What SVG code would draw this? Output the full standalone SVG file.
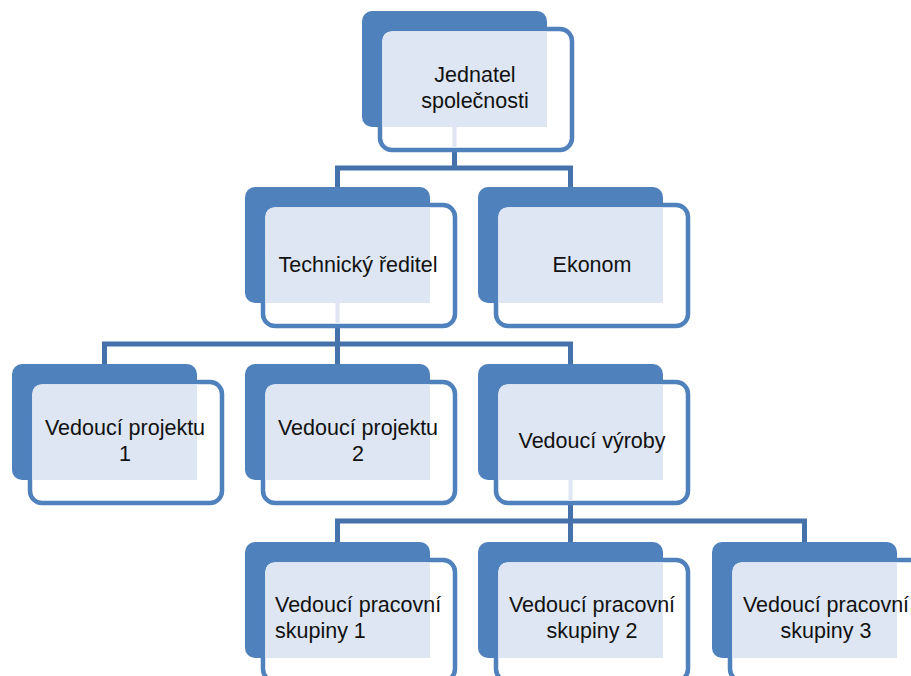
<svg xmlns="http://www.w3.org/2000/svg" width="911" height="676" viewBox="0 0 911 676">
<style>
.back{fill:#4F81BD}
.front{fill:#FFFFFF;stroke:#4F81BD;stroke-width:4.5}
.pat{fill:#DDE6F2}
.conn{fill:none;stroke:#4672AC;stroke-width:5;stroke-linejoin:miter}
text{font-family:"Liberation Sans",Arial,sans-serif;font-size:21.5px;fill:#111}
.c{text-anchor:middle}
</style>
<defs>
<g id="box">
<rect class="back" x="0" y="0" width="185" height="116" rx="10"/>
<rect class="front" x="18" y="18" width="192" height="121" rx="12"/>
<path class="pat" d="M30,20.5 H185 V116 H20.5 V30 Q20.5,20.5 30,20.5 Z"/>
</g>
</defs>
<g id="connectors">
<path class="conn" d="M454.5,150 V168 M337.5,187 V168 H570.5 V187"/>
<path class="conn" d="M337.5,326 V344 M104.5,364 V344 H570.5 V364 M337.5,344 V364"/>
<path class="conn" d="M570.5,503 V521 M337.5,542 V521 H804.5 V542 M570.5,521 V542"/>
</g>
<g id="n-jednatel" transform="translate(362,11)">
<use href="#box"/>
<rect class="pat" x="90.5" y="116" width="4" height="21"/>
<text class="c" x="113" y="71">Jednatel</text>
<text class="c" x="113" y="97">společnosti</text>
</g>
<g id="n-technicky" transform="translate(245,187)">
<use href="#box"/>
<rect class="pat" x="90.5" y="116" width="4" height="21"/>
<text class="c" x="113" y="85">Technický ředitel</text>
</g>
<g id="n-ekonom" transform="translate(478,187)">
<use href="#box"/>
<text class="c" x="114" y="85">Ekonom</text>
</g>
<g id="n-vp1" transform="translate(12,364)">
<use href="#box"/>
<text class="c" x="113" y="71">Vedoucí projektu</text>
<text class="c" x="113" y="97">1</text>
</g>
<g id="n-vp2" transform="translate(245,364)">
<use href="#box"/>
<text class="c" x="113" y="71">Vedoucí projektu</text>
<text class="c" x="113" y="97">2</text>
</g>
<g id="n-vyroby" transform="translate(478,364)">
<use href="#box"/>
<rect class="pat" x="90.5" y="116" width="4" height="21"/>
<text class="c" x="114" y="84">Vedoucí výroby</text>
</g>
<g id="n-sk1" transform="translate(245,542)">
<use href="#box"/>
<text x="30" y="70">Vedoucí pracovní</text>
<text x="30" y="96">skupiny 1</text>
</g>
<g id="n-sk2" transform="translate(478,542)">
<use href="#box"/>
<text class="c" x="114" y="70">Vedoucí pracovní</text>
<text class="c" x="114" y="96">skupiny 2</text>
</g>
<g id="n-sk3" transform="translate(712,542)">
<use href="#box"/>
<text class="c" x="114" y="70">Vedoucí pracovní</text>
<text class="c" x="114" y="96">skupiny 3</text>
</g>
</svg>
